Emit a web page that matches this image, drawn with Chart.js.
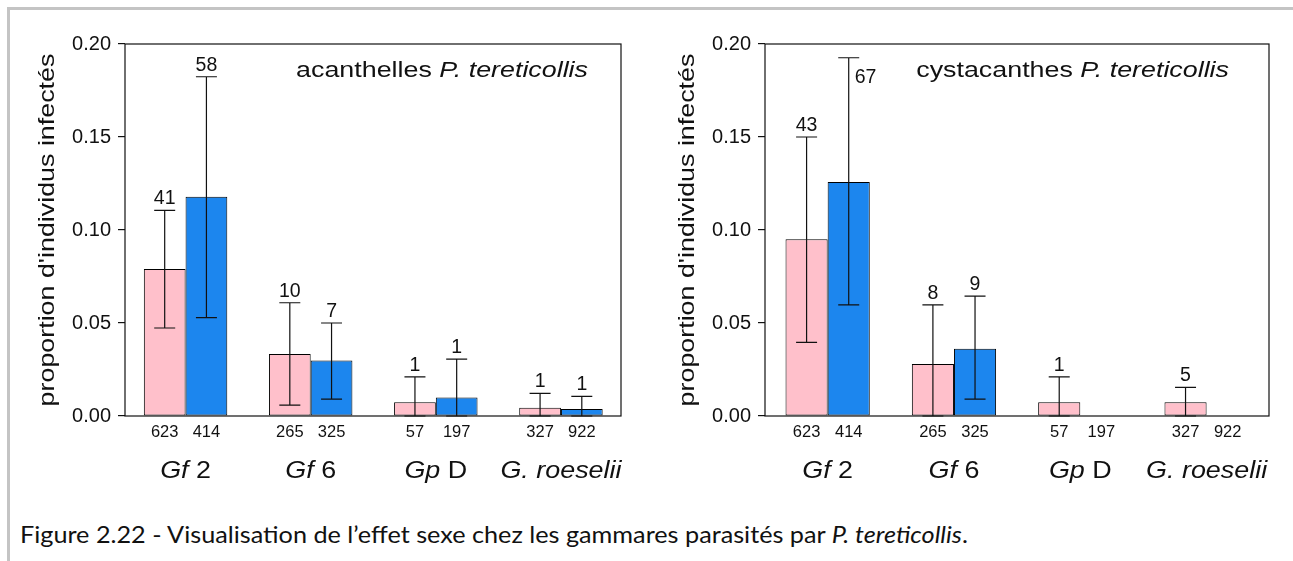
<!DOCTYPE html>
<html lang="fr">
<head>
<meta charset="utf-8">
<title>Figure 2.22</title>
<script src="https://cdn.jsdelivr.net/npm/chart.js@4.4.1/dist/chart.umd.min.js"></script>
<style>
    html, body { margin: 0; padding: 0; background: #fff; }
    body { width: 1293px; height: 561px; position: relative; overflow: hidden; }
    .rule-top  { position: absolute; left: 7px; top: 7px; right: 0; height: 3px; background: #c4c4c4; }
    .rule-left { position: absolute; left: 7px; top: 7px; bottom: 0; width: 3px; background: #c4c4c4; }
    .panel { position: absolute; top: 0; height: 500px; }
    #panel-aca { left: 0; width: 645px; }
    #panel-cys { left: 640px; width: 653px; }
    .caption {
        position: absolute; left: 20px; top: 522px;
        font: 24px Lato, 'Open Sans', sans-serif; line-height: 1;
        color: #111; white-space: nowrap; transform-origin: 0 0;
    }
</style>
</head>
<body>
<div class="rule-top"></div>
<div class="rule-left"></div>
<div class="panel" id="panel-aca"><canvas id="chart-aca"></canvas></div>
<div class="panel" id="panel-cys"><canvas id="chart-cys"></canvas></div>
<div class="caption" id="caption">Figure 2.22 - Visualisation de l’effet sexe chez les gammares parasités par <i>P. tereticollis</i>.</div>

<script>
// ─── Data ─────────────────────────────────────────────

const groups      = ['Gf 2', 'Gf 6', 'Gp D', 'G. roeselii'];
const groupItalic = ['Gf', 'Gf', 'Gp', 'G. roeselii'];   // italic part of each name
const nFemales    = [623, 265, 57, 327];
const nMales      = [414, 325, 197, 922];
const yTicks      = [0, 0.05, 0.10, 0.15, 0.20];
const yLabel      = "proportion d'individus infectés";

// acanthelles
const acaFemale    = [0.079, 0.0333, 0.0074, 0.0045];
const acaFemaleLo  = [0.0473, 0.0059, 0, 0];
const acaFemaleHi  = [0.1106, 0.0609, 0.021, 0.0122];
const acaFemaleInf = [41, 10, 1, 1];
const acaMale      = [0.1179, 0.0299, 0.0099, 0.0038];
const acaMaleLo    = [0.0529, 0.0091, 0, 0];
const acaMaleHi    = [0.1824, 0.050, 0.0306, 0.0106];
const acaMaleInf   = [58, 7, 1, 1];

// cystacanthes
const cysFemale    = [0.095, 0.028, 0.0074, 0.0074];
const cysFemaleLo  = [0.0396, 0, 0, 0];
const cysFemaleHi  = [0.150, 0.0597, 0.021, 0.0154];
const cysFemaleInf = [43, 8, 1, 5];
const cysMale      = [0.1258, 0.0362, 0, 0];
const cysMaleLo    = [0.0597, 0.0091, null, null];
const cysMaleHi    = [0.1926, 0.0645, null, null];
const cysMaleInf   = [67, 9, null, null];

// ─── Style ────────────────────────────────────────────

const INK   = '#111';
const PINK  = '#FFC0CB';
const BLUE  = '#1C86EE';
const FONT  = "'Liberation Sans', Arial, sans-serif";
const WIDE  = 1.22;   // the original labels are set a bit wider than Arial
const GROUP_WIDE = 1.12;

// ─── Helpers ──────────────────────────────────────────

// draws [text, font] runs one after another, horizontally stretched by sx
function drawRuns(ctx, runs, x, y, sx, align) {
    const widths = runs.map(([t, f]) => { ctx.font = f; return ctx.measureText(t).width; });
    const total = widths.reduce((s, w) => s + w, 0);
    ctx.save();
    ctx.translate(x, y);
    ctx.scale(sx, 1);
    let cx = align === 'center' ? -total / 2 : align === 'right' ? -total : 0;
    ctx.textAlign = 'left';
    runs.forEach(([t, f], i) => {
        ctx.font = f;
        ctx.fillText(t, cx, 0);
        cx += widths[i];
    });
    ctx.restore();
}

// ─── Plugin: box, error bars, counts, group names, title ─

const annotations = {
    id: 'annotations',
    afterDatasetsDraw(chart) {
        const { ctx, chartArea: a, scales: { x, y } } = chart;
        ctx.save();
        ctx.strokeStyle = INK;
        ctx.fillStyle = INK;
        ctx.lineWidth = 1.2;
        ctx.textBaseline = 'alphabetic';

        // frame
        ctx.strokeRect(a.left, a.top, a.right - a.left, a.bottom - a.top);

        chart.data.datasets.forEach((ds, di) => {
            const meta = chart.getDatasetMeta(di);
            meta.data.forEach((bar, i) => {
                const bx = bar.x;

                // sample size under the bar
                ctx.font = `16.5px ${FONT}`;
                ctx.textAlign = 'center';
                ctx.fillText(String(ds.n[i]), bx, a.bottom + 21);

                if (ds.hi[i] == null) return;
                const yHi = y.getPixelForValue(ds.hi[i]);
                const yLo = y.getPixelForValue(ds.lo[i]);
                ctx.beginPath();
                ctx.moveTo(bx, yLo); ctx.lineTo(bx, yHi);
                ctx.moveTo(bx - 10.5, yHi); ctx.lineTo(bx + 10.5, yHi);
                ctx.moveTo(bx - 10.5, yLo); ctx.lineTo(bx + 10.5, yLo);
                ctx.stroke();

                // number infected: above the cap, or beside it when no room
                ctx.font = `19.5px ${FONT}`;
                if (yHi - 22 < a.top) {
                    ctx.textAlign = 'left';
                    ctx.fillText(String(ds.inf[i]), bx + 6, yHi + 25);
                } else {
                    ctx.fillText(String(ds.inf[i]), bx, yHi - 6);
                }
            });
        });

        // group names, italic part + plain rest
        groups.forEach((name, i) => {
            const it = groupItalic[i];
            drawRuns(ctx, [[it, `italic 24px ${FONT}`], [name.slice(it.length), `24px ${FONT}`]],
                x.getPixelForValue(i), a.bottom + 62, GROUP_WIDE, 'center');
        });

        // panel title
        const t = chart.options.plugins.annotations;
        drawRuns(ctx, [[t.plain, `22px ${FONT}`], [t.italic, `italic 22px ${FONT}`]],
            a.right - t.right, a.top + 33, WIDE, 'right');

        // y axis title
        ctx.save();
        ctx.translate(47.5, (a.top + a.bottom) / 2);
        ctx.rotate(-Math.PI / 2);
        ctx.textBaseline = 'middle';
        drawRuns(ctx, [[yLabel, `22px ${FONT}`]], 0, 0, WIDE, 'center');
        ctx.restore();

        ctx.restore();
    },
};

// ─── Chart builder ────────────────────────────────────

function toPoints(values) {
    return values.map((v, i) => ({ x: i, y: v }));
}

function buildPanel(canvasId, female, male, title, xRange) {
    const canvas = document.getElementById(canvasId);
    const barStyle = {
        borderColor: '#000', borderWidth: 1, borderSkipped: false,
        categoryPercentage: 0.667, barPercentage: 1,
    };
    return new Chart(canvas.getContext('2d'), {
        type: 'bar',
        data: {
            datasets: [
                { data: toPoints(female.v), lo: female.lo, hi: female.hi, inf: female.inf, n: nFemales,
                  backgroundColor: PINK, ...barStyle },
                { data: toPoints(male.v), lo: male.lo, hi: male.hi, inf: male.inf, n: nMales,
                  backgroundColor: BLUE, ...barStyle },
            ],
        },
        options: {
            responsive: true,
            maintainAspectRatio: false,
            animation: false,
            layout: { padding: { left: 0, right: 24, top: 44, bottom: 0 } },
            plugins: {
                legend: { display: false },
                tooltip: { enabled: false },
                annotations: title,
            },
            scales: {
                x: {
                    type: 'linear',
                    min: xRange[0],
                    max: xRange[1],
                    offset: false,
                    afterBuildTicks: s => { s.ticks = groups.map((_, i) => ({ value: i })); },
                    afterFit: s => { s.height = 84; },
                    grid: { display: false },
                    border: { display: false },
                    ticks: { display: false },
                },
                y: {
                    min: 0,
                    max: 0.2,
                    afterBuildTicks: s => { s.ticks = yTicks.map(v => ({ value: v })); },
                    afterFit: s => { s.width = 125; },
                    grid: { drawOnChartArea: false, drawTicks: true, tickLength: 7, color: INK, lineWidth: 1.2 },
                    border: { display: false },
                    ticks: {
                        color: INK,
                        padding: 7,
                        font: { family: FONT, size: 20 },
                        callback: v => v.toFixed(2),
                    },
                },
            },
        },
        plugins: [annotations],
    });
}

buildPanel('chart-aca',
    { v: acaFemale, lo: acaFemaleLo, hi: acaFemaleHi, inf: acaFemaleInf },
    { v: acaMale,   lo: acaMaleLo,   hi: acaMaleHi,   inf: acaMaleInf },
    { plain: 'acanthelles ', italic: 'P. tereticollis', right: 33 },
    [-0.484, 3.48]);

buildPanel('chart-cys',
    { v: cysFemale, lo: cysFemaleLo, hi: cysFemaleHi, inf: cysFemaleInf },
    { v: cysMale,   lo: cysMaleLo,   hi: cysMaleHi,   inf: cysMaleInf },
    { plain: 'cystacanthes ', italic: 'P. tereticollis', right: 40 },
    [-0.496, 3.494]);

// caption: stretch to the width it has in the original figure
const cap = document.getElementById('caption');
cap.style.transform = `scaleX(${948 / cap.offsetWidth})`;
</script>
</body>
</html>
